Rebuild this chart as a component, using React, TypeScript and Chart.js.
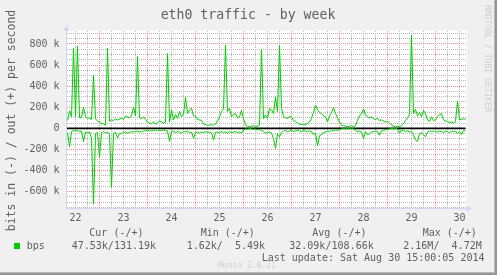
import React, { useEffect, useRef } from 'react';
import { Chart, registerables } from 'chart.js';

Chart.register(...registerables);

const TITLE = 'eth0 traffic - by week';
const Y_LABEL = 'bits in (-) / out (+) per second';
const SIDE_LABEL = 'RRDTOOL / TOBI OETIKER';
const VERSION_LABEL = 'Munin 2.0.21';
const LAST_UPDATE = 'Last update: Sat Aug 30 15:00:05 2014';
const SERIES_NAME = 'bps';
const LEGEND_HEADERS = ['Cur (-/+)', 'Min (-/+)', 'Avg (-/+)', 'Max (-/+)'];
const LEGEND_IN = ['47.53k', '1.62k', '32.09k', '2.16M'];
const LEGEND_OUT = ['131.19k', '5.49k', '108.66k', '4.72M'];

// time axis in hours since Aug 22 00:00
const FIRST_HOUR = 8;
const STEP_HOURS = 1;
const VIEW_START_HOUR = 7.75;
const VIEW_END_HOUR = 207.75;
const DAY_LABELS = ['22', '23', '24', '25', '26', '27', '28', '29', '30'];
const X_GRID_STEP_HOURS = 6;
const Y_MIN = -760000;
const Y_MAX = 928000;
const Y_MAJOR_TICKS = [-600000, -400000, -200000, 0, 200000, 400000, 600000, 800000];
const Y_MINOR_STEP = 50000;

// outbound traffic, kbit/s, hourly from Aug 22 08:00
const OUT_KBPS = [
  75, 165, 110, 760, 110, 780, 100, 105, 200, 110, 95, 100, 85, 505, 90, 70, 60, 40, 45, 30, 760, 70, 80, 75,
  90, 80, 85, 100, 85, 115, 110, 100, 120, 200, 120, 680, 100, 90, 110, 85, 60, 50, 45, 60, 40, 55, 70, 60,
  50, 60, 710, 60, 175, 80, 130, 95, 160, 110, 130, 295, 140, 175, 190, 120, 115, 85, 80, 75, 40, 35, 30, 30,
  35, 30, 40, 70, 110, 160, 185, 790, 160, 190, 110, 130, 140, 100, 110, 170, 90, 30, 20, 15, 20, 25, 15, 20,
  30, 745, 90, 127, 95, 190, 175, 140, 295, 160, 785, 190, 110, 100, 95, 110, 110, 75, 65, 50, 40, 35, 40, 35,
  45, 60, 95, 150, 220, 180, 150, 140, 120, 110, 60, 120, 150, 195, 140, 100, 60, 30, 25, 20, 15, 20, 25, 15,
  25, 75, 120, 135, 185, 125, 110, 100, 110, 90, 85, 95, 75, 80, 70, 60, 65, 50, 30, 20, 15, 20, 15, 25,
  45, 75, 100, 130, 885, 140, 180, 120, 150, 110, 170, 140, 80, 65, 110, 75, 80, 110, 133, 140, 80, 70, 65, 55,
  60, 50, 65, 260, 85, 85, 90, 88,
];

// inbound traffic, kbit/s (drawn negative), hourly from Aug 22 08:00
const IN_KBPS = [
  40, 175, 30, 20, 25, 20, 30, 25, 125, 35, 45, 35, 90, 720, 50, 40, 270, 40, 30, 45, 35, 60, 560, 45,
  40, 90, 50, 50, 40, 35, 45, 40, 30, 35, 30, 25, 35, 30, 25, 20, 25, 20, 25, 20, 15, 20, 15, 20,
  15, 20, 25, 125, 30, 25, 40, 30, 35, 50, 30, 35, 25, 40, 35, 95, 40, 35, 45, 35, 40, 30, 40, 35,
  45, 110, 40, 35, 45, 30, 40, 35, 45, 30, 40, 35, 30, 40, 35, 45, 15, 5, 10, 0, 5, 10, 5, 15,
  10, 20, 30, 45, 40, 35, 45, 95, 190, 50, 80, 40, 25, 20, 30, 25, 20, 30, 25, 20, 25, 30, 20, 25,
  30, 25, 30, 60, 45, 165, 70, 60, 40, 35, 25, 30, 20, 25, 15, 20, 10, 5, 0, 5, 0, 5, 0, 5,
  20, 30, 25, 35, 95, 30, 60, 50, 35, 30, 25, 30, 65, 25, 20, 15, 10, 5, 0, 5, 0, 5, 50, 15,
  20, 30, 25, 35, 30, 60, 110, 125, 50, 40, 60, 80, 35, 25, 30, 25, 30, 35, 25, 30, 40, 25, 30, 45,
  25, 30, 25, 50, 30, 60, 20, 25,
];

const FONT = '"DejaVu Sans Mono", monospace';
const TEXT = '#606060';
const GREEN = '#00CC00';
const MAJOR_GRID = '#ee8c8c';
const MINOR_GRID = '#b8b8b8';
const AXIS = '#CFD6F8';

const isMajorY = (v: number) => Y_MAJOR_TICKS.includes(Math.round(v));
const isMajorX = (h: number) => Math.round(h) % 24 === 0;
const yLabel = (v: number) => (Math.round(v) === 0 ? '0' : `${Math.round(v) / 1000} k`);

const hourGrid = () => {
  const out: number[] = [];
  for (let h = Math.ceil(VIEW_START_HOUR / X_GRID_STEP_HOURS) * X_GRID_STEP_HOURS; h < VIEW_END_HOUR; h += X_GRID_STEP_HOURS) out.push(h);
  return out;
};
const valueGrid = () => {
  const out: number[] = [];
  for (let v = Math.ceil(Y_MIN / Y_MINOR_STEP) * Y_MINOR_STEP; v < Y_MAX; v += Y_MINOR_STEP) out.push(v);
  return out;
};

const decorPlugin = {
  id: 'decor',
  beforeDraw(chart: any) {
    const { ctx, chartArea: a } = chart;
    ctx.save();
    ctx.fillStyle = '#F0F0F0';
    ctx.fillRect(0, 0, chart.width, chart.height);
    ctx.fillStyle = '#FFFFFF';
    ctx.fillRect(a.left, a.top, a.right - a.left, a.bottom - a.top);
    ctx.restore();
  },
  beforeDatasetsDraw(chart: any) {
    const { ctx, chartArea: a } = chart;
    const xs = chart.scales.x;
    const ys = chart.scales.y;
    const top = Math.ceil(a.top);
    const bottom = Math.floor(a.bottom);
    const left = Math.ceil(a.left);
    const right = Math.floor(a.right);
    ctx.save();
    for (const major of [false, true]) {
      ctx.fillStyle = major ? MAJOR_GRID : MINOR_GRID;
      hourGrid().forEach((h) => {
        if (isMajorX(h) !== major) return;
        const px = Math.floor(xs.getPixelForValue(h));
        for (let p = top; p < bottom; p += 2) ctx.fillRect(px, p, 1, 1);
      });
      valueGrid().forEach((v) => {
        if (isMajorY(v) !== major) return;
        const py = Math.floor(ys.getPixelForValue(v));
        for (let p = left; p < right; p += 2) ctx.fillRect(p, py, 1, 1);
      });
    }
    ctx.restore();
  },
  afterDraw(chart: any) {
    const { ctx, chartArea: a } = chart;
    ctx.save();
    // axes with arrows
    ctx.strokeStyle = AXIS;
    ctx.fillStyle = AXIS;
    ctx.lineWidth = 1;
    ctx.beginPath();
    ctx.moveTo(a.left - 0.5, a.bottom);
    ctx.lineTo(a.left - 0.5, a.top - 2);
    ctx.moveTo(a.left - 0.5, a.bottom);
    ctx.lineTo(a.right + 2, a.bottom);
    ctx.stroke();
    ctx.beginPath();
    ctx.moveTo(a.left - 0.5, a.top - 5);
    ctx.lineTo(a.left - 3.5, a.top + 0.5);
    ctx.lineTo(a.left + 2.5, a.top + 0.5);
    ctx.closePath();
    ctx.fill();
    ctx.beginPath();
    ctx.moveTo(a.right + 5, a.bottom);
    ctx.lineTo(a.right - 0.5, a.bottom - 3);
    ctx.lineTo(a.right - 0.5, a.bottom + 3);
    ctx.closePath();
    ctx.fill();

    // title
    ctx.fillStyle = TEXT;
    ctx.textBaseline = 'alphabetic';
    ctx.textAlign = 'center';
    ctx.font = `13.2px ${FONT}`;
    ctx.fillText(TITLE, 248, 18.5);

    // vertical axis label
    ctx.save();
    ctx.translate(15, 120.5);
    ctx.rotate(-Math.PI / 2);
    ctx.font = `11.5px ${FONT}`;
    ctx.fillText(Y_LABEL, 0, 0);
    ctx.restore();

    // right side label
    ctx.save();
    ctx.translate(485, 5);
    ctx.rotate(Math.PI / 2);
    ctx.textAlign = 'left';
    ctx.font = `8.1px ${FONT}`;
    ctx.fillStyle = '#cfcfcf';
    ctx.fillText(SIDE_LABEL, 0, 0);
    ctx.restore();

    // legend
    ctx.font = `10px ${FONT}`;
    ctx.textAlign = 'left';
    const headerX = [89.3, 200.7, 312.3, 422.7];
    LEGEND_HEADERS.forEach((h, i) => ctx.fillText(h, headerX[i], 236));
    ctx.fillStyle = GREEN;
    ctx.fillRect(14, 243, 6, 6);
    ctx.fillStyle = TEXT;
    ctx.fillText(SERIES_NAME, 26.7, 249);
    const slashEnd = [113.8, 222.8, 331.4, 439.4];
    ctx.textAlign = 'right';
    LEGEND_IN.forEach((v, i) => {
      ctx.fillText(v + '/', slashEnd[i], 249);
      ctx.fillText(LEGEND_OUT[i], slashEnd[i] + 42.3, 249);
    });
    ctx.textAlign = 'left';
    ctx.fillText(LAST_UPDATE, 261.7, 260.6);

    ctx.font = `8px ${FONT}`;
    ctx.fillStyle = '#cfcfcf';
    ctx.fillText(VERSION_LABEL, 218, 268);

    // frame shade
    ctx.fillStyle = '#b8b8b8';
    ctx.fillRect(494, 0, 1, 275);
    ctx.fillRect(0, 272, 497, 1);
    ctx.fillStyle = '#969696';
    ctx.fillRect(495, 0, 2, 275);
    ctx.fillRect(0, 273, 497, 2);
    ctx.restore();
  },
};

export default function App() {
  const ref = useRef<HTMLCanvasElement | null>(null);

  useEffect(() => {
    document.body.style.margin = '0';
    const canvas = ref.current;
    if (!canvas) return;

    const outPts = OUT_KBPS.map((v, i) => ({ x: FIRST_HOUR + i * STEP_HOURS, y: v * 1000 }));
    const inPts = IN_KBPS.map((v, i) => ({ x: FIRST_HOUR + i * STEP_HOURS, y: -v * 1000 }));
    const lastHour = FIRST_HOUR + (OUT_KBPS.length - 1) * STEP_HOURS;
    const zeroPts = [
      { x: VIEW_START_HOUR, y: 0 },
      { x: lastHour, y: 0 },
    ];

    const lineDs = (label: string, data: any[], color: string, width: number) => ({
      label,
      data,
      borderColor: color,
      backgroundColor: color,
      borderWidth: width,
      pointRadius: 0,
      tension: 0,
      fill: false,
    });

    const chart = new Chart(canvas, {
      type: 'line',
      data: {
        datasets: [
          lineDs('out', outPts, GREEN, 1),
          lineDs('in', inPts, GREEN, 1),
          lineDs('zero', zeroPts, '#000000', 1.6),
        ],
      },
      options: {
        animation: false,
        responsive: false,
        devicePixelRatio: 1,
        events: [],
        layout: { padding: { left: 0, right: 30, top: 30.5, bottom: 0 } },
        plugins: {
          legend: { display: false },
          title: { display: false },
          tooltip: { enabled: false },
        },
        scales: {
          x: {
            type: 'linear',
            min: VIEW_START_HOUR,
            max: VIEW_END_HOUR,
            afterFit: (s: any) => {
              s.height = 66.5;
            },
            afterBuildTicks: (s: any) => {
              s.ticks = hourGrid().map((value) => ({ value }));
            },
            ticks: {
              autoSkip: false,
              maxRotation: 0,
              minRotation: 0,
              padding: 4,
              color: TEXT,
              font: { family: FONT, size: 10 },
              callback: (v: any) => {
                const h = Math.round(Number(v));
                return h % 24 === 12 ? DAY_LABELS[Math.floor(h / 24)] || '' : '';
              },
            },
            grid: { display: false, drawTicks: false },
            border: { display: false },
          },
          y: {
            type: 'linear',
            min: Y_MIN,
            max: Y_MAX,
            afterFit: (s: any) => {
              s.width = 67;
            },
            afterBuildTicks: (s: any) => {
              s.ticks = valueGrid().map((value) => ({ value }));
            },
            ticks: {
              autoSkip: false,
              padding: 7.5,
              color: TEXT,
              font: { family: FONT, size: 10 },
              callback: (v: any) => (isMajorY(Number(v)) ? yLabel(Number(v)) : ''),
            },
            grid: { display: false, drawTicks: false },
            border: { display: false },
          },
        },
      } as any,
      plugins: [decorPlugin],
    });

    return () => chart.destroy();
  }, []);

  return <canvas ref={ref} width={497} height={275} style={{ display: 'block' }} />;
}
